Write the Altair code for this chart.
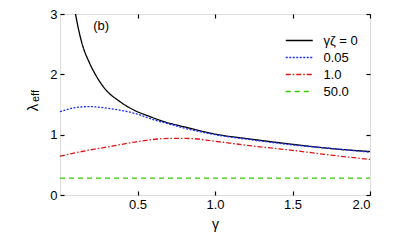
import altair as alt
import pandas as pd

# ---------------- data ----------------
series_labels = ["γζ = 0", "0.05", "1.0", "50.0"]
series_colors = ["#000000", "#1a2cff", "#e01414", "#33cc00"]
series_dash = [[1, 0], [2, 1.5], [5, 2, 1.5, 2], [5, 4]]

g_black = [0.10, 0.12, 0.14, 0.19, 0.23, 0.29, 0.38, 0.46, 0.58, 0.68, 0.80, 1.00, 1.25, 1.50, 1.75, 2.00]
l_black = [3.00, 2.74, 2.53, 2.19, 1.99, 1.76, 1.56, 1.43, 1.30, 1.21, 1.13, 1.01, 0.92, 0.84, 0.77, 0.72]

g_blue = [0.00, 0.05, 0.10, 0.19, 0.30, 0.40, 0.50, 0.60, 0.70, 0.80, 1.00, 1.25, 1.50, 1.75, 2.00]
l_blue = [1.38, 1.42, 1.45, 1.465, 1.44, 1.40, 1.34, 1.25, 1.18, 1.11, 1.00, 0.91, 0.83, 0.77, 0.71]

g_red = [0.00, 0.10, 0.20, 0.26, 0.39, 0.50, 0.60, 0.72, 0.85, 1.00, 1.25, 1.50, 1.75, 2.00]
l_red = [0.645, 0.70, 0.75, 0.775, 0.835, 0.885, 0.92, 0.94, 0.935, 0.89, 0.81, 0.74, 0.66, 0.59]

g_green = [0.00, 1.00, 2.00]
l_green = [0.28, 0.28, 0.28]

x_ticks = [0.5, 1.0, 1.5, 2.0]
y_ticks = [0, 1, 2, 3]

panel_label = ["(b)"]
panel_label_g = [0.265]
panel_label_l = [2.80]

rows = []
for lab, gs, ls in zip(series_labels,
                       [g_black, g_blue, g_red, g_green],
                       [l_black, l_blue, l_red, l_green]):
    for g, l in zip(gs, ls):
        rows.append({"series": lab, "gamma": g, "lam": l})
df = pd.DataFrame(rows)

ann = pd.DataFrame({"txt": panel_label, "gamma": panel_label_g, "lam": panel_label_l})

FONT = "Liberation Sans"

xscale = alt.Scale(domain=[0, 2], nice=False, zero=False)
yscale = alt.Scale(domain=[0, 3], nice=False, zero=False)

tick_common = dict(domain=False, grid=False, tickSize=4, offset=-4, tickColor="black",
                   tickWidth=1.2, labelFont=FONT, labelFontSize=13, labelColor="black")

legend_opts = dict(title=None, orient="none", legendX=231.75, legendY=19,
                   symbolType="M-2,0H2", symbolSize=182, symbolStrokeWidth=1.3,
                   labelFont=FONT, labelFontSize=13, labelOffset=16.75, rowPadding=2,
                   padding=0, labelColor="black")

lines = alt.Chart(df).mark_line(strokeWidth=1.3, interpolate="monotone").encode(
    x=alt.X("gamma:Q", scale=xscale,
            axis=alt.Axis(orient="bottom", values=x_ticks, format=".1f", labelPadding=3,
                          title="γ", titleFont=FONT, titleFontSize=14, titleFontWeight="normal",
                          titlePadding=6, titleColor="black", **tick_common)),
    y=alt.Y("lam:Q", scale=yscale,
            axis=alt.Axis(orient="left", values=y_ticks, format="d", labelPadding=3,
                          title=None, **tick_common)),
    color=alt.Color("series:N", sort=series_labels,
                    scale=alt.Scale(domain=series_labels, range=series_colors),
                    legend=alt.Legend(**legend_opts)),
    strokeDash=alt.StrokeDash("series:N", sort=series_labels,
                              scale=alt.Scale(domain=series_labels, range=series_dash),
                              legend=alt.Legend(**legend_opts)),
)

label_b = alt.Chart(ann).mark_text(font=FONT, fontSize=13, color="black").encode(
    x=alt.X("gamma:Q", scale=xscale,
            axis=alt.Axis(orient="top", values=x_ticks, labels=False, title=None, **tick_common)),
    y=alt.Y("lam:Q", scale=yscale,
            axis=alt.Axis(orient="right", values=y_ticks, labels=False, title=None, **tick_common)),
    text="txt:N",
)

ylab_main = alt.Chart(pd.DataFrame({"t": ["λ"]})).mark_text(
    font=FONT, fontSize=15, angle=270, align="center", baseline="alphabetic", color="black"
).encode(x=alt.value(-22), y=alt.value(93.5), text="t:N")

ylab_sub = alt.Chart(pd.DataFrame({"t": ["eff"]})).mark_text(
    font=FONT, fontSize=11, angle=270, align="center", baseline="alphabetic", color="black"
).encode(x=alt.value(-21), y=alt.value(82), text="t:N")

chart = alt.layer(lines, label_b, ylab_main, ylab_sub).resolve_axis(
    x="independent", y="independent"
).properties(
    width=310, height=181,
    autosize=alt.AutoSizeParams(type="none"),
    padding={"left": 52, "top": 6, "right": 21, "bottom": 43},
).configure_view(stroke="black", strokeWidth=1.3).configure(font=FONT)

chart.save("out.html", embed_options={"renderer": "svg", "actions": False})
